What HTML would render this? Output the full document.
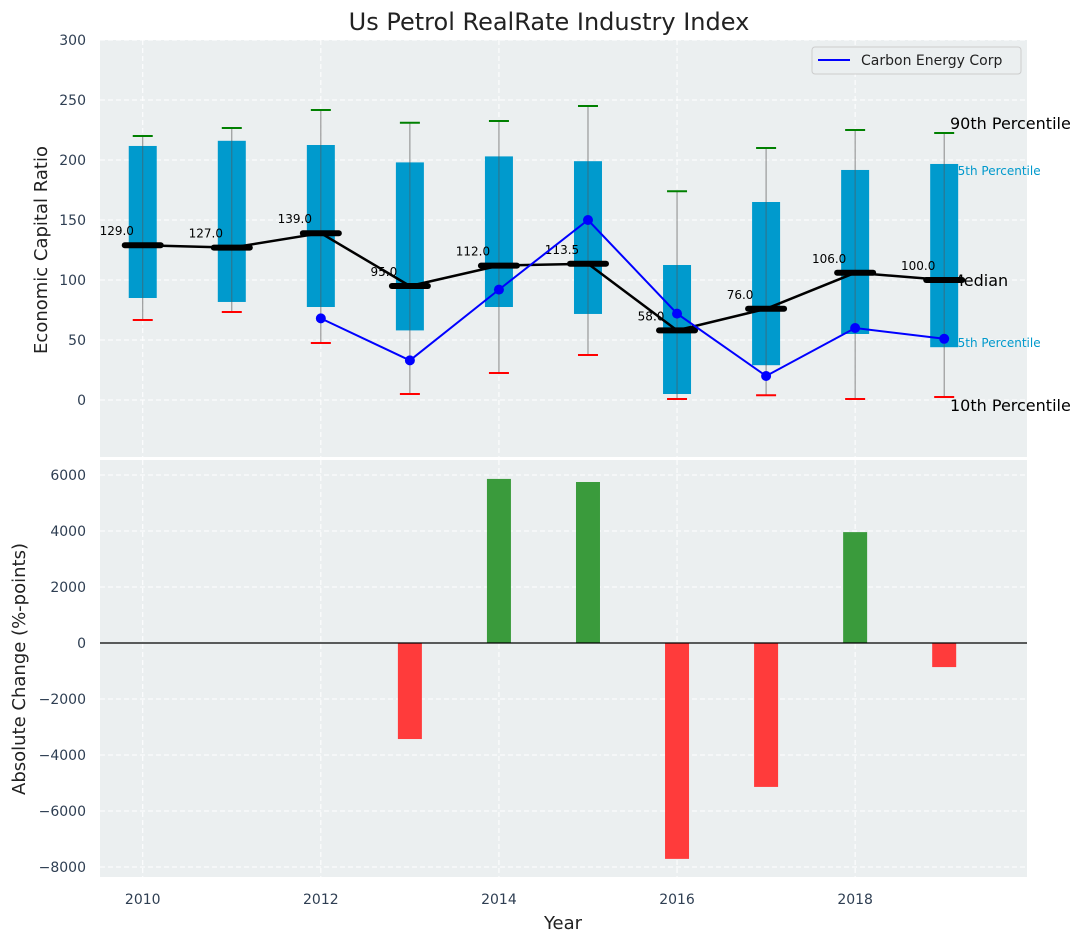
<!DOCTYPE html>
<html><head><meta charset="utf-8"><style>
body{margin:0;background:#fff;}
svg{display:block;font-family:"DejaVu Sans","Liberation Sans",sans-serif;}
</style></head><body>
<svg id="c" width="1085" height="942" viewBox="0 0 1085 942"></svg>
<script>
const years=[2010,2011,2012,2013,2014,2015,2016,2017,2018,2019];
const p90=[220,226.7,241.7,231,232.5,245,174,210,225,222.5];
const p75=[211.7,216,212.5,198,203,199,112.5,165,191.7,196.7];
const medians=[129,127,139,95,112,113.5,58,76,106,100];
const p25=[85,81.7,77.5,58,77.5,71.7,5,29,55,44];
const p10=[66.7,73.3,47.5,5,22.5,37.5,0.8,4,0.8,2.5];
const carbon=[null,null,68,33,92,150,72,20,60,51];
const changeYears=[2013,2014,2015,2016,2017,2018,2019];
const changes=[-3430,5860,5750,-7710,-5140,3960,-860];
const topTicks=[0,50,100,150,200,250,300];
const botTicks=[-8000,-6000,-4000,-2000,0,2000,4000,6000];
const xTicks=[2010,2012,2014,2016,2018];

const NS='http://www.w3.org/2000/svg';
const svg=document.getElementById('c');
function el(t,a,parent){const e=document.createElementNS(NS,t);for(const k in a)e.setAttribute(k,a[k]);(parent||svg).appendChild(e);return e;}
const L=100,R=1027;
const x=v=>L+(v-2009.52)*(R-L)/(2019.93-2009.52);
const yT=v=>400-v*1.2;
const yB=v=>643-v*0.028;
const tickCol='#2e3e52';

let t=el('text',{x:549,y:30,'text-anchor':'middle','font-size':24,fill:'#222'});t.textContent='Us Petrol RealRate Industry Index';


let p=el('rect',{x:L,y:40,width:R-L,height:417,fill:'#ebeff0'});

p=el('rect',{x:L,y:460,width:R-L,height:417,fill:'#ebeff0'});


xTicks.forEach(v=>{
  el('line',{x1:x(v),x2:x(v),y1:40,y2:457,stroke:'#fff','stroke-dasharray':'5,3','stroke-width':1});
  el('line',{x1:x(v),x2:x(v),y1:460,y2:877,stroke:'#fff','stroke-dasharray':'5,3','stroke-width':1});
  const tx=el('text',{x:x(v),y:904,'text-anchor':'middle','font-size':14,fill:tickCol});tx.textContent=v;
  
});
topTicks.forEach(v=>{
  el('line',{x1:L,x2:R,y1:yT(v),y2:yT(v),stroke:'#fff','stroke-dasharray':'5,3'});
  const tx=el('text',{x:86,y:yT(v)+5,'text-anchor':'end','font-size':14,fill:tickCol});tx.textContent=v;
  
});
botTicks.forEach(v=>{
  el('line',{x1:L,x2:R,y1:yB(v),y2:yB(v),stroke:'#fff','stroke-dasharray':'5,3'});
  const tx=el('text',{x:86,y:yB(v)+5,'text-anchor':'end','font-size':14,fill:tickCol});tx.textContent=(v<0?'\u2212'+(-v):v);
  
});

const lx=950;
[['90th Percentile',p90[9],16,'#000',6],['75th Percentile',p75[9],12,'#0099cc',4],['Median',medians[9],16,'#000',6],['25th Percentile',p25[9],12,'#0099cc',4],['10th Percentile',p10[9],16,'#000',6]].forEach((d,i)=>{
  let yy=yT(d[1]);
  if(i===0) yy=yT(p90[9])-10; if(i===4) yy=yT(p10[9])+8;
  if(i===1) yy=yT(p75[9])+7; if(i===3) yy=yT(p25[9])-4;
  const tx=el('text',{x:lx,y:yy+d[4],'font-size':d[2],fill:d[3]});tx.textContent=d[0];
  
});

years.forEach((yr,i)=>{
  const cx=x(yr),w=28;
  const wl=el('line',{x1:cx,x2:cx,y1:yT(p90[i]),y2:yT(p10[i]),stroke:'#888','stroke-width':1});
  
  const b=el('rect',{x:cx-w/2,y:yT(p75[i]),width:w,height:yT(p25[i])-yT(p75[i]),fill:'#009acd'});
  
  el('line',{x1:cx,x2:cx,y1:yT(p75[i]),y2:yT(p25[i]),stroke:'#555','stroke-width':1,opacity:0.6});
  const h=el('line',{x1:cx-10,x2:cx+10,y1:yT(p90[i]),y2:yT(p90[i]),stroke:'green','stroke-width':2});
  
  const lo=el('line',{x1:cx-10,x2:cx+10,y1:yT(p10[i]),y2:yT(p10[i]),stroke:'red','stroke-width':2});
  
});
const mp=el('polyline',{points:years.map((y,i)=>x(y)+','+yT(medians[i])).join(' '),fill:'none',stroke:'#000','stroke-width':2.5});

years.forEach((yr,i)=>{
  const m=el('line',{x1:x(yr)-18,x2:x(yr)+18,y1:yT(medians[i]),y2:yT(medians[i]),stroke:'#000','stroke-width':6,'stroke-linecap':'round'});
  
  const tx=el('text',{x:x(yr)-26,y:yT(medians[i])-10,'text-anchor':'middle','font-size':12,fill:'#000'});tx.textContent=medians[i].toFixed(1);
  
});
const cp=[];years.forEach((y,i)=>{if(carbon[i]!==null)cp.push(x(y)+','+yT(carbon[i]));});
const cl=el('polyline',{points:cp.join(' '),fill:'none',stroke:'#0000ff','stroke-width':2});

years.forEach((y,i)=>{if(carbon[i]===null)return;
  const c=el('circle',{cx:x(y),cy:yT(carbon[i]),r:5,fill:'#0000ff'});
  });

const lg=el('g',{});
el('rect',{x:812,y:47,width:209,height:27,rx:3,fill:'#ebeff0',stroke:'#ccc'},lg);
el('line',{x1:818,x2:850,y1:60,y2:60,stroke:'#0000ff','stroke-width':2},lg);
t=el('text',{x:861,y:65,'font-size':14,fill:'#222'},lg);t.textContent='Carbon Energy Corp';

changeYears.forEach((yr,i)=>{
  const v=changes[i];
  const b=el('rect',{x:x(yr)-12,y:Math.min(yB(v),yB(0)),width:24,height:Math.abs(yB(v)-yB(0)),fill:v>=0?'#3a9b3c':'#ff3b3b'});
  
});
const z=el('line',{x1:L,x2:R,y1:yB(0),y2:yB(0),stroke:'#000','stroke-width':1.2});


t=el('text',{x:0,y:0,'font-size':18,fill:'#222','text-anchor':'middle',transform:'translate(47,250) rotate(-90)'});t.textContent='Economic Capital Ratio';

t=el('text',{x:0,y:0,'font-size':18,fill:'#222','text-anchor':'middle',transform:'translate(25,669) rotate(-90)'});t.textContent='Absolute Change (%-points)';

t=el('text',{x:563,y:929,'font-size':18,fill:'#222','text-anchor':'middle'});t.textContent='Year';

</script>
</body></html>
